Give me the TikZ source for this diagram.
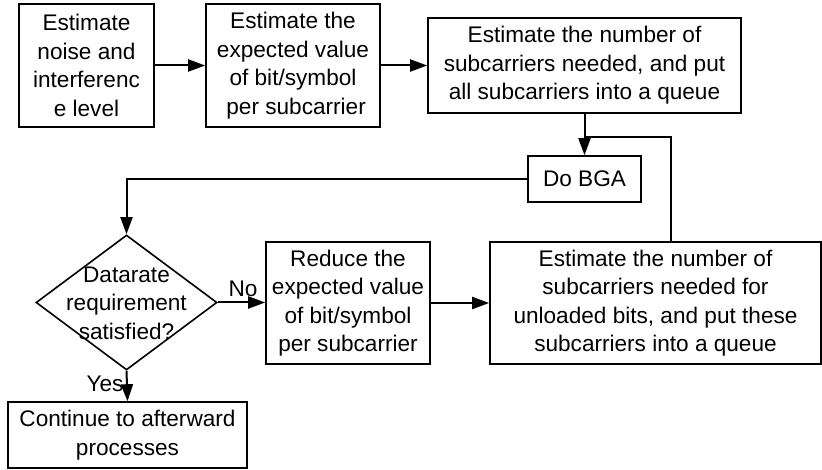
\documentclass[tikz,border=0pt]{standalone}
\usepackage{fontspec}
\setmainfont{Liberation Sans}
\usetikzlibrary{shapes.geometric,arrows.meta,calc}
\begin{document}
\begin{tikzpicture}[x=1pt,y=-1pt,
  every node/.style={font=\fontsize{22.6}{28.5}\selectfont},
  box/.style={draw,line width=1.6pt,inner sep=0pt,align=center},
  txt/.style={align=center,inner sep=0pt},
  conn/.style={line width=2pt},
  arr/.style={conn,-{Triangle[length=17pt,width=12pt]}}]
\useasboundingbox (0,0) rectangle (822,470);
\node[box,minimum width=135,minimum height=123] (b1) at (86.5,65.5) {Estimate\\noise and\\interferenc\\e level};
\node[box,minimum width=174,minimum height=123] (b2) at (293,65.5) {Estimate the\\expected value\\of bit/symbol\\\ per subcarrier};
\node[box,minimum width=313,minimum height=95] (b3) at (584.5,65.5) {Estimate the number of\\subcarriers needed, and put\\all subcarriers into a queue};
\node[box,minimum width=113,minimum height=46] (bga) at (584.5,179) {Do BGA};
\node[draw,diamond,line width=1.6pt,inner sep=0pt,minimum width=181,minimum height=135] (dec) at (126.5,302.5) {};
\node[txt] (dect) at (126.5,303) {Datarate\\requirement\\satisfied?};
\node[box,minimum width=164,minimum height=122] (b4) at (348,303) {Reduce the\\expected value\\of bit/symbol\\per subcarrier};
\node[box,minimum width=331,minimum height=122] (b5) at (655.5,303) {Estimate the number of\\subcarriers needed for\\unloaded bits, and put these\\subcarriers into a queue};
\node[box,minimum width=239,minimum height=66] (cont) at (127.5,435) {Continue to afterward\\processes};
\coordinate (fb) at (671,137);
\draw[arr] (b1.east) -- (b2.west);
\draw[arr] (b2.east) -- (b2.east -| b3.west);
\draw[arr] (b3.south) -- (bga.north);
\draw[conn] (b5.north -| fb) -- (fb) -- (fb -| bga.north);
\draw[arr] (bga.west) -| (dec.north);
\draw[arr] (dec.east) -- (dec.east -| b4.west);
\draw[arr] (dec.south) -- (cont.north);
\draw[arr] (b4.east) -- (b5.west);
\node[txt] (no) at (243,289) {No};
\node[txt] (yes) at (105,384) {Yes};
\end{tikzpicture}
\end{document}
